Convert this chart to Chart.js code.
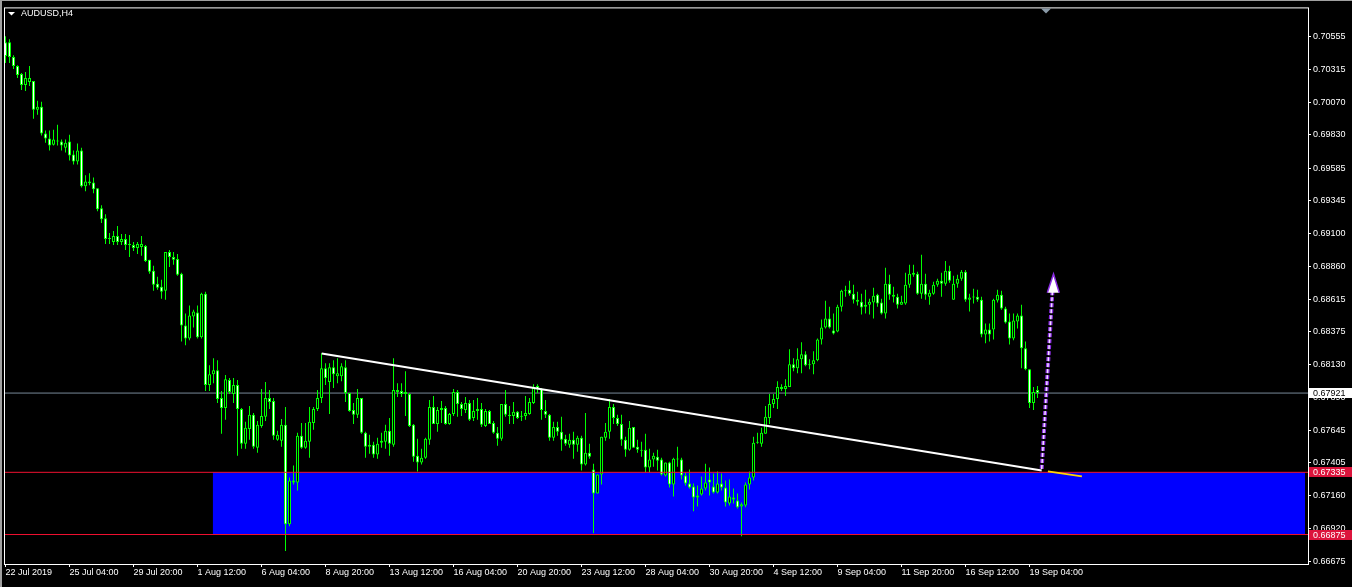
<!DOCTYPE html>
<html>
<head>
<meta charset="utf-8">
<title>AUDUSD,H4</title>
<script src="https://cdn.jsdelivr.net/npm/chart.js@4.4.1/dist/chart.umd.min.js"></script>
<style>
  html, body { margin: 0; padding: 0; background: #000; }
  #area { width: 1352px; height: 587px; }
</style>
</head>
<body>
<div id="area"><canvas id="grafico" width="1352" height="587"></canvas></div>
<script>
// Velas H4 (uma por barra, da esquerda para a direita)
const aberturas = [
  0.70516,0.70516,0.70406,0.70339,0.70281,0.70199,0.70222,0.70229,0.70016,0.70038,
  0.69840,0.69803,0.69758,0.69788,0.69781,0.69736,0.69781,0.69685,0.69634,0.69715,
  0.69450,0.69486,0.69479,0.69435,0.69288,0.69214,0.69060,0.69038,0.69082,0.69038,
  0.69060,0.69023,0.69016,0.68994,0.69001,0.69009,0.68906,0.68825,0.68729,0.68707,
  0.68678,0.68965,0.68928,0.68913,0.68803,0.68421,0.68325,0.68487,0.68516,0.68333,
  0.68656,0.67980,0.68061,0.68090,0.67884,0.67811,0.68017,0.67914,0.67980,0.67803,
  0.67546,0.67656,0.67760,0.67517,0.67678,0.67745,0.67884,0.67862,0.67576,0.67568,
  0.67686,0.66951,0.67274,0.67259,0.67605,0.67517,0.67561,0.67700,0.67803,0.67884,
  0.68105,0.68002,0.68112,0.68046,0.68046,0.68112,0.67921,0.67796,0.67760,0.67884,
  0.67627,0.67539,0.67539,0.67466,0.67553,0.67561,0.67642,0.67539,0.67943,0.67936,
  0.67914,0.67914,0.67686,0.67458,0.67407,0.67443,0.67576,0.67818,0.67693,0.67811,
  0.67811,0.67693,0.67767,0.67929,0.67840,0.67796,0.67847,0.67737,0.67789,0.67803,
  0.67678,0.67789,0.67700,0.67627,0.67583,0.67840,0.67760,0.67752,0.67782,0.67752,
  0.67752,0.67767,0.67847,0.67973,0.67951,0.67789,0.67760,0.67591,0.67671,0.67635,
  0.67583,0.67539,0.67576,0.67539,0.67591,0.67392,0.67480,0.67355,0.67179,0.67319,
  0.67591,0.67635,0.67818,0.67737,0.67693,0.67576,0.67502,0.67671,0.67524,0.67502,
  0.67502,0.67370,0.67429,0.67451,0.67429,0.67311,0.67407,0.67245,0.67436,0.67429,
  0.67311,0.67252,0.67230,0.67149,0.67171,0.67215,0.67282,0.67230,0.67186,0.67252,
  0.67223,0.67105,0.67149,0.67127,0.67083,0.67090,0.67245,0.67297,0.67553,0.67546,
  0.67620,0.67737,0.67840,0.67877,0.67965,0.67951,0.67965,0.68134,0.68105,0.68171,
  0.68208,0.68127,0.68134,0.68164,0.68318,0.68406,0.68472,0.68384,0.68377,0.68560,
  0.68678,0.68685,0.68656,0.68612,0.68597,0.68575,0.68575,0.68590,0.68649,0.68590,
  0.68509,0.68729,0.68649,0.68634,0.68575,0.68583,0.68722,0.68796,0.68803,0.68656,
  0.68729,0.68634,0.68656,0.68722,0.68751,0.68729,0.68825,0.68612,0.68729,0.68766,
  0.68818,0.68612,0.68627,0.68634,0.68612,0.68355,0.68391,0.68391,0.68605,0.68649,
  0.68546,0.68450,0.68325,0.68450,0.68494,0.68252,0.68097,0.67847,0.67943
];
const maximas = [
  0.70560,0.70538,0.70420,0.70346,0.70288,0.70295,0.70339,0.70229,0.70082,0.70075,
  0.69862,0.69862,0.69869,0.69905,0.69796,0.69796,0.69832,0.69715,0.69766,0.69736,
  0.69531,0.69546,0.69516,0.69435,0.69310,0.69244,0.69105,0.69119,0.69156,0.69097,
  0.69097,0.69090,0.69038,0.69038,0.69082,0.69016,0.68906,0.68862,0.68781,0.68759,
  0.68965,0.68979,0.68965,0.68950,0.68810,0.68509,0.68568,0.68538,0.68568,0.68663,
  0.68671,0.68127,0.68178,0.68164,0.67936,0.68054,0.68032,0.68032,0.68017,0.67811,
  0.67708,0.67825,0.67774,0.67715,0.67951,0.68002,0.67943,0.67884,0.67642,0.67730,
  0.67818,0.67297,0.67385,0.67627,0.67700,0.67700,0.67818,0.67818,0.67943,0.68215,
  0.68141,0.68141,0.68164,0.68178,0.68141,0.68164,0.67921,0.67847,0.67951,0.67884,
  0.67635,0.67613,0.67561,0.67591,0.67627,0.67686,0.67737,0.68178,0.67994,0.67994,
  0.68083,0.67921,0.67693,0.67583,0.67510,0.67591,0.67869,0.67899,0.67818,0.67862,
  0.67825,0.67774,0.67951,0.67943,0.67855,0.67892,0.67869,0.67869,0.67884,0.67847,
  0.67803,0.67796,0.67715,0.67671,0.67840,0.67943,0.67825,0.67855,0.67789,0.67789,
  0.67899,0.67884,0.67987,0.67987,0.67958,0.67869,0.67767,0.67708,0.67708,0.67745,
  0.67613,0.67620,0.67635,0.67605,0.67605,0.67774,0.67546,0.67399,0.67319,0.67598,
  0.67700,0.67877,0.67840,0.67760,0.67760,0.67598,0.67715,0.67671,0.67576,0.67561,
  0.67620,0.67510,0.67480,0.67502,0.67443,0.67407,0.67414,0.67443,0.67524,0.67443,
  0.67333,0.67355,0.67252,0.67237,0.67304,0.67399,0.67370,0.67326,0.67341,0.67326,
  0.67274,0.67282,0.67215,0.67179,0.67112,0.67259,0.67341,0.67598,0.67627,0.67664,
  0.67825,0.67914,0.67914,0.68009,0.67987,0.68024,0.68245,0.68178,0.68252,0.68296,
  0.68230,0.68171,0.68230,0.68325,0.68465,0.68604,0.68560,0.68509,0.68575,0.68685,
  0.68715,0.68751,0.68722,0.68671,0.68656,0.68685,0.68619,0.68700,0.68656,0.68619,
  0.68847,0.68796,0.68707,0.68656,0.68641,0.68810,0.68869,0.68869,0.68818,0.68943,
  0.68803,0.68685,0.68744,0.68766,0.68810,0.68898,0.68862,0.68789,0.68796,0.68832,
  0.68832,0.68656,0.68693,0.68685,0.68634,0.68436,0.68436,0.68619,0.68685,0.68678,
  0.68560,0.68509,0.68509,0.68509,0.68575,0.68303,0.68097,0.67965,0.67973
];
const minimas = [
  0.70361,0.70361,0.70317,0.70251,0.70163,0.70155,0.70192,0.69950,0.69979,0.69825,
  0.69773,0.69715,0.69751,0.69751,0.69715,0.69700,0.69641,0.69611,0.69611,0.69442,
  0.69413,0.69457,0.69399,0.69266,0.69178,0.69023,0.69023,0.69016,0.69016,0.69016,
  0.68979,0.68928,0.68972,0.68950,0.68936,0.68891,0.68803,0.68678,0.68685,0.68619,
  0.68612,0.68854,0.68869,0.68789,0.68303,0.68274,0.68311,0.68406,0.68325,0.68325,
  0.67936,0.67936,0.67994,0.67847,0.67620,0.67723,0.67914,0.67847,0.67458,0.67510,
  0.67510,0.67576,0.67510,0.67480,0.67664,0.67715,0.67803,0.67576,0.67568,0.67524,
  0.66753,0.66936,0.67245,0.67201,0.67510,0.67510,0.67443,0.67649,0.67789,0.67847,
  0.67980,0.67767,0.67958,0.67994,0.68009,0.67855,0.67782,0.67693,0.67737,0.67620,
  0.67443,0.67473,0.67443,0.67436,0.67517,0.67510,0.67458,0.67524,0.67892,0.67892,
  0.67752,0.67671,0.67414,0.67341,0.67392,0.67436,0.67539,0.67693,0.67635,0.67700,
  0.67686,0.67686,0.67752,0.67745,0.67752,0.67774,0.67715,0.67715,0.67723,0.67671,
  0.67671,0.67693,0.67620,0.67532,0.67568,0.67745,0.67693,0.67693,0.67730,0.67715,
  0.67723,0.67760,0.67840,0.67921,0.67723,0.67737,0.67568,0.67568,0.67605,0.67495,
  0.67532,0.67517,0.67436,0.67488,0.67348,0.67385,0.67436,0.66885,0.67179,0.67245,
  0.67568,0.67583,0.67693,0.67678,0.67532,0.67451,0.67495,0.67517,0.67480,0.67451,
  0.67333,0.67333,0.67377,0.67348,0.67311,0.67304,0.67223,0.67157,0.67377,0.67282,
  0.67237,0.67215,0.67047,0.67083,0.67164,0.67201,0.67164,0.67179,0.67179,0.67201,
  0.67083,0.67090,0.67105,0.67068,0.66863,0.67076,0.67208,0.67274,0.67546,0.67524,
  0.67620,0.67693,0.67811,0.67803,0.67936,0.67899,0.67965,0.68083,0.68068,0.68068,
  0.68119,0.68097,0.68061,0.68156,0.68281,0.68399,0.68399,0.68355,0.68370,0.68524,
  0.68634,0.68641,0.68583,0.68568,0.68502,0.68509,0.68502,0.68472,0.68560,0.68502,
  0.68472,0.68612,0.68590,0.68546,0.68575,0.68575,0.68700,0.68781,0.68649,0.68619,
  0.68612,0.68575,0.68649,0.68707,0.68634,0.68715,0.68737,0.68612,0.68700,0.68751,
  0.68597,0.68524,0.68583,0.68597,0.68333,0.68289,0.68303,0.68318,0.68590,0.68538,
  0.68436,0.68281,0.68311,0.68399,0.68105,0.68090,0.67811,0.67796,0.67884
];
const fechamentos = [
  0.70413,0.70406,0.70339,0.70273,0.70199,0.70251,0.70251,0.70016,0.70038,0.69840,
  0.69803,0.69751,0.69796,0.69781,0.69751,0.69773,0.69678,0.69634,0.69715,0.69450,
  0.69486,0.69472,0.69428,0.69281,0.69207,0.69060,0.69068,0.69082,0.69038,0.69060,
  0.69016,0.69016,0.68994,0.69023,0.69023,0.68898,0.68818,0.68722,0.68700,0.68671,
  0.68965,0.68928,0.68906,0.68796,0.68421,0.68325,0.68494,0.68524,0.68333,0.68656,
  0.67980,0.68061,0.68090,0.67877,0.67811,0.68024,0.67929,0.67980,0.67803,0.67546,
  0.67664,0.67760,0.67524,0.67686,0.67752,0.67884,0.67855,0.67605,0.67613,0.67686,
  0.66951,0.67274,0.67259,0.67605,0.67517,0.67568,0.67708,0.67803,0.67884,0.68105,
  0.68032,0.68112,0.68061,0.68068,0.68119,0.67921,0.67789,0.67760,0.67884,0.67627,
  0.67524,0.67524,0.67466,0.67546,0.67568,0.67642,0.67546,0.67943,0.67929,0.67914,
  0.67929,0.67678,0.67451,0.67407,0.67443,0.67583,0.67818,0.67693,0.67796,0.67796,
  0.67693,0.67767,0.67929,0.67840,0.67803,0.67847,0.67723,0.67789,0.67803,0.67686,
  0.67789,0.67693,0.67627,0.67583,0.67840,0.67760,0.67752,0.67782,0.67737,0.67745,
  0.67774,0.67855,0.67965,0.67951,0.67796,0.67760,0.67591,0.67671,0.67635,0.67576,
  0.67546,0.67576,0.67539,0.67591,0.67392,0.67480,0.67451,0.67179,0.67319,0.67598,
  0.67635,0.67818,0.67737,0.67693,0.67576,0.67502,0.67664,0.67517,0.67502,0.67495,
  0.67370,0.67429,0.67458,0.67421,0.67319,0.67407,0.67245,0.67436,0.67429,0.67311,
  0.67252,0.67223,0.67149,0.67164,0.67215,0.67259,0.67259,0.67186,0.67252,0.67223,
  0.67112,0.67157,0.67134,0.67076,0.67098,0.67245,0.67297,0.67553,0.67561,0.67627,
  0.67745,0.67840,0.67877,0.67965,0.67951,0.67973,0.68134,0.68105,0.68171,0.68208,
  0.68127,0.68134,0.68164,0.68318,0.68406,0.68472,0.68406,0.68362,0.68560,0.68678,
  0.68685,0.68656,0.68612,0.68597,0.68553,0.68560,0.68597,0.68641,0.68583,0.68509,
  0.68729,0.68649,0.68634,0.68575,0.68597,0.68722,0.68803,0.68810,0.68656,0.68729,
  0.68649,0.68663,0.68722,0.68751,0.68729,0.68825,0.68751,0.68729,0.68766,0.68818,
  0.68612,0.68627,0.68634,0.68612,0.68355,0.68391,0.68355,0.68612,0.68649,0.68546,
  0.68443,0.68325,0.68458,0.68494,0.68252,0.68097,0.67847,0.67929,0.67921
];

// Eixo de tempo: barra onde cada rótulo aparece
const barrasRotulosX = [0,16,32,48,64,80,96,112,128,144,160,176,192,208,224,240,256];
const rotulosX = [
  '22 Jul 2019','25 Jul 04:00','29 Jul 20:00','1 Aug 12:00','6 Aug 04:00','8 Aug 20:00',
  '13 Aug 12:00','16 Aug 04:00','20 Aug 20:00','23 Aug 12:00','28 Aug 04:00','30 Aug 20:00',
  '4 Sep 12:00','9 Sep 04:00','11 Sep 20:00','16 Sep 12:00','19 Sep 04:00'
];
// Eixo de preços
const valoresEixoY = [
  0.70555,0.70315,0.70070,0.69830,0.69585,0.69345,0.69100,0.68860,0.68615,
  0.68375,0.68130,0.67890,0.67645,0.67405,0.67160,0.66920,0.66675
];

// Objetos desenhados sobre o gráfico
const precoBid = 0.67921;
const zonaTopo = 0.67335;
const zonaBase = 0.66875;
const zonaBarras = [51.8, 324.9];
const linhaTendencia = [[79.05, 0.68213], [259.05, 0.67349]];
const linhaAmarela = [[260.6, 0.67342], [269.1, 0.67305]];
const setaHaste = [[259.05, 0.67360], [261.75, 0.68680]];
const setaBase = 0.68663;
const setaPonta = [[260.45, 0.68663], [262.0, 0.68801], [263.45, 0.68663]];

const xMin = -0.375, xMax = 325.625;
const yMin = 0.66657, yMax = 0.70773;
const VERDE = '#00ff00';
const FONTE = '"Liberation Sans", Arial, sans-serif';

const pontos = (lista) => lista.map(p => ({ x: p[0], y: p[1] }));
const horizontal = (y, x0, x1) => [{ x: x0, y: y }, { x: x1, y: y }];

const pavios = maximas.map((h, i) => ({ x: i, y: [minimas[i], h] }));
const corpos = aberturas.map((o, i) => ({ x: i, y: [o, fechamentos[i]] }));
const corCorpo = aberturas.map((o, i) => fechamentos[i] < o ? '#ffffff' : '#000000');

function linha(dados, cor, largura, ordem, extra) {
  return Object.assign({
    type: 'line', data: dados, borderColor: cor, borderWidth: largura,
    pointRadius: 0, tension: 0, fill: false, order: ordem
  }, extra || {});
}

// Moldura, título, marcador e etiquetas de preço
const moldura = {
  id: 'moldura',
  afterDraw(chart) {
    const ctx = chart.ctx;
    const a = chart.chartArea;
    const ey = chart.scales.y;
    const ex = chart.scales.x;
    ctx.save();
    ctx.fillStyle = '#a0a0a0';
    ctx.fillRect(0, 0, chart.width, 1);
    ctx.fillRect(0, 0, 2, chart.height);

    ctx.strokeStyle = '#ffffff';
    ctx.lineWidth = 1;
    ctx.strokeRect(a.left + 0.5, a.top + 0.5, a.right - a.left, a.bottom - a.top);

    ctx.fillStyle = '#ffffff';
    ctx.beginPath();
    ctx.moveTo(8, 12); ctx.lineTo(15, 12); ctx.lineTo(11.5, 15.5);
    ctx.closePath(); ctx.fill();
    ctx.font = '9px ' + FONTE;
    ctx.textBaseline = 'alphabetic';
    ctx.textAlign = 'left';
    ctx.fillText('AUDUSD,H4', 21, 16);

    const xm = Math.round(ex.getPixelForValue(260.1));
    ctx.fillStyle = '#8a9aa8';
    ctx.beginPath();
    ctx.moveTo(xm - 5, a.top + 1); ctx.lineTo(xm + 5, a.top + 1); ctx.lineTo(xm, a.top + 6);
    ctx.closePath(); ctx.fill();

    const etiquetas = [
      { v: precoBid, fundo: '#ffffff', texto: '#000000' },
      { v: zonaTopo, fundo: '#dc143c', texto: '#ffffff' },
      { v: zonaBase, fundo: '#dc143c', texto: '#ffffff' }
    ];
    ctx.textBaseline = 'middle';
    etiquetas.forEach(e => {
      const py = ey.getPixelForValue(e.v);
      ctx.fillStyle = e.fundo;
      ctx.fillRect(a.right + 1, Math.round(py) - 5, chart.width - a.right - 1, 10);
      ctx.fillStyle = e.texto;
      ctx.fillText(e.v.toFixed(5), a.right + 5, py + 0.5);
    });
    ctx.restore();
  }
};

new Chart(document.getElementById('grafico'), {
  type: 'bar',
  data: {
    datasets: [
      linha(horizontal(zonaTopo, zonaBarras[0], zonaBarras[1]), 'rgba(0,0,0,0)', 1, 20,
        { fill: { value: zonaBase }, backgroundColor: '#0000ff' }),
      linha(horizontal(precoBid, xMin, xMax), '#778899', 1, 18),
      {
        type: 'bar', data: pavios, backgroundColor: VERDE, borderWidth: 0,
        barThickness: 1, grouped: false, inflateAmount: 0, order: 10
      },
      {
        type: 'bar', data: corpos, backgroundColor: corCorpo, borderColor: VERDE,
        borderWidth: 1, borderSkipped: false, barThickness: 3, minBarLength: 1,
        grouped: false, inflateAmount: 0, order: 9
      },
      linha(horizontal(zonaTopo, xMin, xMax), '#f01030', 1, 5),
      linha(horizontal(zonaBase, xMin, xMax), '#f01030', 1, 5),
      linha(pontos(linhaTendencia), '#ffffff', 2, 3),
      linha(pontos(linhaAmarela), '#ffd700', 2, 3),
      linha(pontos(setaHaste), '#8a2be2', 4, 2, { borderDash: [4, 2] }),
      linha(pontos(setaHaste), '#f0e0ff', 1.5, 1, { borderDash: [4, 2] }),
      linha(pontos(setaPonta), '#8a2be2', 1.5, 0,
        { fill: { value: setaBase }, backgroundColor: '#ffffff' })
    ]
  },
  options: {
    responsive: false,
    devicePixelRatio: 1,
    animation: false,
    events: [],
    layout: { autoPadding: false, padding: { left: 4, top: 4, right: 0, bottom: 0 } },
    plugins: { legend: { display: false }, tooltip: { enabled: false }, title: { display: false } },
    scales: {
      x: {
        type: 'linear', position: 'bottom', min: xMin, max: xMax, offset: false,
        grid: { offset: false, drawOnChartArea: false, color: '#ffffff', tickLength: 3 },
        border: { display: false },
        afterBuildTicks: (s) => { s.ticks = barrasRotulosX.map(v => ({ value: v })); },
        afterFit: (s) => { s.height = 23; },
        ticks: {
          autoSkip: false, maxRotation: 0, minRotation: 0, align: 'start', padding: 0,
          color: '#ffffff', font: { family: FONTE, size: 9 },
          callback: (v) => rotulosX[barrasRotulosX.indexOf(v)]
        }
      },
      y: {
        type: 'linear', position: 'right', min: yMin, max: yMax,
        grid: { drawOnChartArea: false, color: '#ffffff', tickLength: 3 },
        border: { display: false },
        afterBuildTicks: (s) => { s.ticks = valoresEixoY.map(v => ({ value: v })); },
        afterFit: (s) => { s.width = 44; },
        ticks: {
          autoSkip: false, padding: 2, color: '#ffffff',
          font: { family: FONTE, size: 9 },
          callback: (v) => Number(v).toFixed(5)
        }
      }
    }
  },
  plugins: [moldura]
});
</script>
</body>
</html>
